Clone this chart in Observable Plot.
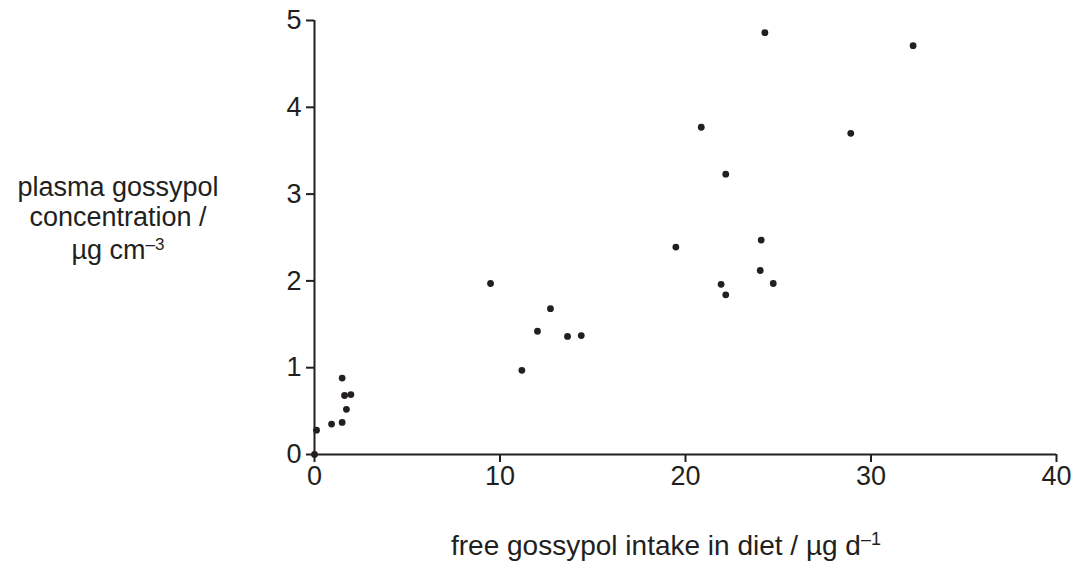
<!DOCTYPE html>
<html>
<head>
<meta charset="utf-8">
<script src="https://cdn.jsdelivr.net/npm/d3@7"></script>
<script src="https://cdn.jsdelivr.net/npm/@observablehq/plot@0.6"></script>
<style>
  html, body { margin: 0; padding: 0; background: #fff; }
  #chart svg { display: block; }
</style>
</head>
<body>
<div id="chart"></div>
<script>
// free gossypol intake in diet (µg d^-1)
const intake = [0, 0.11, 0.92, 1.49, 1.49, 1.62, 1.72, 1.96, 9.49, 11.18, 12.02, 12.72, 13.64, 14.38, 19.48, 20.85, 21.92, 22.17, 22.17, 24.03, 24.08, 24.28, 24.73, 28.91, 32.27];
// plasma gossypol concentration (µg cm^-3)
const plasma = [0, 0.28, 0.35, 0.37, 0.88, 0.68, 0.52, 0.69, 1.97, 0.97, 1.42, 1.68, 1.36, 1.37, 2.39, 3.77, 1.96, 3.23, 1.84, 2.12, 2.47, 4.86, 1.97, 3.70, 4.71];
const xTicks = [0, 10, 20, 30, 40];
const yTicks = [0, 1, 2, 3, 4, 5];

const data = intake.map((x, i) => ({x, y: plasma[i]}));
const ink = "#231f20";

const chart = Plot.plot({
  width: 1078,
  height: 562,
  marginLeft: 314,
  marginRight: 22,
  marginTop: 20,
  marginBottom: 108,
  style: {fontFamily: "'Liberation Sans', Arial, sans-serif", fontSize: "27px", color: ink, background: "#fff"},
  x: {domain: [0, 40]},
  y: {domain: [0, 5]},
  marks: [
    Plot.axisX({ticks: xTicks, tickFormat: "d", tickSize: 8, tickPadding: 3, strokeWidth: 2, label: null, stroke: ink, fill: ink}),
    Plot.axisY({ticks: yTicks, tickFormat: "d", tickSize: 8, tickPadding: 5, strokeWidth: 2, label: null, stroke: ink, fill: ink}),
    Plot.ruleY([0], {stroke: ink, strokeWidth: 2}),
    Plot.ruleX([0], {stroke: ink, strokeWidth: 2}),
    Plot.dot(data, {x: "x", y: "y", r: 3.4, fill: ink, stroke: "none"})
  ]
});
document.getElementById("chart").appendChild(chart);

const svg = d3.select(chart);
const font = "'Liberation Sans', Arial, sans-serif";
// y-axis title (three centered lines)
const yLab = svg.append("g").attr("font-family", font).attr("font-size", 27).attr("fill", ink).attr("text-anchor", "middle");
yLab.append("text").attr("x", 118).attr("y", 196).text("plasma gossypol");
yLab.append("text").attr("x", 118).attr("y", 226).text("concentration /");
const t3 = yLab.append("text").attr("x", 118).attr("y", 259);
t3.append("tspan").text("\u00B5g cm");
t3.append("tspan").attr("font-size", 17).attr("dy", -9).text("\u20133");

// x-axis title
const xLab = svg.append("text").attr("font-family", font).attr("font-size", 28).attr("fill", ink)
  .attr("text-anchor", "middle").attr("x", 666).attr("y", 555);
xLab.append("tspan").text("free gossypol intake in diet / \u00B5g d");
xLab.append("tspan").attr("font-size", 18).attr("dy", -10).text("\u20131");
</script>
</body>
</html>
